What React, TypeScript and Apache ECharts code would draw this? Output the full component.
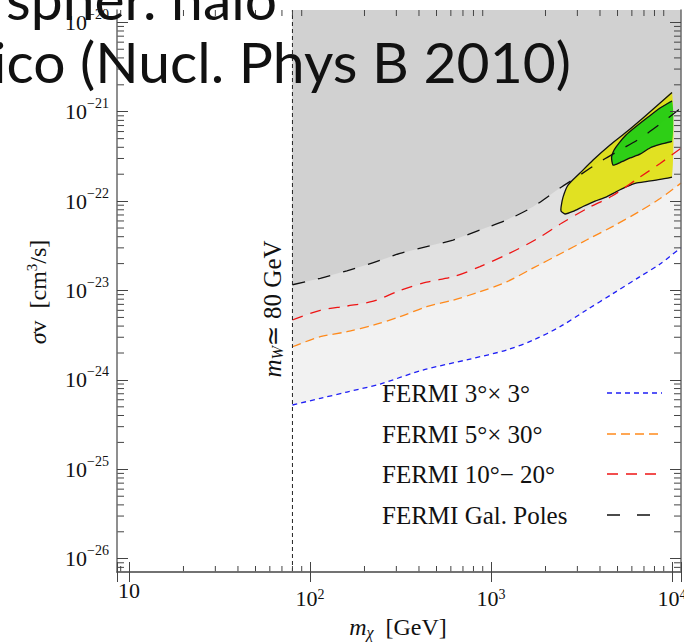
import React, { useEffect, useRef } from "react";
import * as echarts from "echarts";

// ---- axis ranges (log scales) ----
const X_MIN = 8.587;
const X_MAX = 11210;
const Y_MIN = 7.1e-27;
const Y_MAX = 1.374e-20;
const M_W = 80;

const xDecadeExponents = [1, 2, 3, 4];
const yDecadeExponents = [-26, -25, -24, -23, -22, -21, -20];

// ---- FERMI constraints (m_chi [GeV], sigma v [cm^3/s]) ----
const blueMass = [80, 114, 160, 244, 421, 766, 1221, 1713, 2404, 3370, 4740, 6654, 8590, 11210];
const blueSigma = [5.24e-25, 6.22e-25, 7.32e-25, 9.0e-25, 1.29e-24, 1.71e-24, 2.16e-24, 2.79e-24, 3.93e-24, 6.05e-24, 9.3e-24, 1.43e-23, 1.98e-23, 3.03e-23];

const orangeMass = [80, 114, 160, 224, 314, 441, 621, 869, 1221, 1713, 2404, 3370, 4740, 6654, 8590, 11210];
const orangeSigma = [2.35e-24, 3.04e-24, 3.46e-24, 4.11e-24, 5.09e-24, 6.59e-24, 7.83e-24, 9.7e-24, 1.25e-23, 1.79e-23, 2.56e-23, 3.67e-23, 5.26e-23, 7.74e-23, 1.07e-22, 1.59e-22];

const redMass = [80, 114, 160, 224, 314, 441, 621, 869, 1241, 1750, 2466, 3435, 4665, 6654, 8590, 11210];
const redSigma = [4.68e-24, 6.0e-24, 6.7e-24, 7.6e-24, 1.0e-23, 1.24e-23, 1.43e-23, 1.85e-23, 2.56e-23, 3.67e-23, 5.69e-23, 8.38e-23, 1.14e-22, 1.86e-22, 2.64e-22, 3.9e-22];

const blackMass = [80, 114, 160, 224, 314, 441, 617, 869, 1221, 1706, 2404, 3102, 4000, 5163, 6654, 8590, 11210];
const blackSigma = [1.16e-23, 1.37e-23, 1.66e-23, 2.05e-23, 2.6e-23, 3.1e-23, 3.67e-23, 4.75e-23, 6.15e-23, 8.65e-23, 1.4e-22, 1.96e-22, 2.76e-22, 3.73e-22, 5.03e-22, 7.28e-22, 1.1e-21];

// ---- fit regions (PAMELA / FERMI e+e- preferred) ----
const yellowMass = [10000, 8590, 6914, 5640, 4545, 3664, 3102, 2663, 2500, 2438, 2438, 2565, 2838, 3224, 3757, 4320, 4908, 5570, 6320, 7280, 8590, 10000];
const yellowSigma = [1.64e-21, 1.25e-21, 8.5e-22, 6.0e-22, 4.24e-22, 2.88e-22, 2.06e-22, 1.51e-22, 1.11e-22, 8.59e-23, 7.74e-23, 7.18e-23, 7.66e-23, 8.7e-23, 1.0e-22, 1.11e-22, 1.27e-22, 1.44e-22, 1.59e-22, 1.66e-22, 1.75e-22, 1.86e-22];

const greenMass = [10000, 8590, 7380, 6325, 5570, 5093, 4786, 4635, 4721, 5163, 5866, 6654, 7550, 8590, 10000];
const greenSigma = [1.32e-21, 1.1e-21, 8.72e-22, 6.82e-22, 5.48e-22, 4.46e-22, 3.73e-22, 3.11e-22, 2.53e-22, 2.7e-22, 3.04e-22, 3.36e-22, 3.93e-22, 4.3e-22, 4.65e-22];

const legendLabels = ["FERMI 3°× 3°", "FERMI 5°× 30°", "FERMI 10°− 20°", "FERMI Gal. Poles"];

const SERIF = "'Liberation Serif', 'DejaVu Serif', serif";
const SANS = "Lato, 'Open Sans', sans-serif";

const zip = (a: number[], b: number[]) => a.map((v, i) => [v, b[i]]);

// minor tick values (2..9 x 10^n) inside the ranges
const minorTicks = (lo: number, hi: number, nLo: number, nHi: number) => {
  const out: number[] = [];
  for (let n = nLo; n <= nHi; n++) {
    for (let k = 2; k <= 9; k++) {
      const v = k * Math.pow(10, n);
      if (v > lo && v < hi) out.push(v);
    }
  }
  return out;
};
const xMinor = minorTicks(X_MIN, X_MAX, 0, 4);
const yMinor = minorTicks(Y_MIN, Y_MAX, -27, -20);

const isDecade = (v: number) => Math.abs(Math.log10(v) - Math.round(Math.log10(v))) < 1e-6;

export default function App() {
  const ref = useRef<HTMLDivElement>(null);

  useEffect(() => {
    const chart = echarts.init(ref.current!, null, { renderer: "svg" });

    const frameLine = { show: true, lineStyle: { color: "#6a6a6a", width: 1.5 } };
    const majorTickX = { show: true, inside: true, length: 10, lineStyle: { color: "#444", width: 1 } };
    const majorTickY = { show: true, inside: true, length: 11, lineStyle: { color: "#444", width: 1 } };

    const xLabel = {
      show: true,
      margin: 7,
      formatter: (v: number) => {
        if (!isDecade(v)) return "";
        const e = Math.round(Math.log10(v));
        if (!xDecadeExponents.includes(e)) return "";
        if (e === 1) return "{p|10}";
        return "{b|10}{s|" + e + "}";
      },
      rich: {
        p: { fontFamily: SERIF, fontSize: 22, lineHeight: 22, color: "#111" },
        b: { fontFamily: SERIF, fontSize: 22, lineHeight: 38, color: "#111" },
        s: { fontFamily: SERIF, fontSize: 14, lineHeight: 14, padding: [0, 0, 7, 0], color: "#111" },
      },
    };
    const yLabel = {
      show: true,
      margin: 8,
      formatter: (v: number) => {
        if (!isDecade(v)) return "";
        const e = Math.round(Math.log10(v));
        if (!yDecadeExponents.includes(e)) return "";
        return "{b|10}{s|\u2212" + Math.abs(e) + "}";
      },
      rich: {
        b: { fontFamily: SERIF, fontSize: 22, lineHeight: 30, color: "#111" },
        s: { fontFamily: SERIF, fontSize: 14, lineHeight: 14, padding: [0, 0, 16, 0], color: "#111" },
      },
    };

    const curves = [
      { m: blueMass, s: blueSigma, color: "#1f1ff5", fill: "#f2f2f2", dash: [5, 4] },
      { m: orangeMass, s: orangeSigma, color: "#ff8a1c", fill: "#e7e7e7", dash: [9, 5] },
      { m: redMass, s: redSigma, color: "#ee1515", fill: "#e1e1e1", dash: [11, 8] },
      { m: blackMass, s: blackSigma, color: "#111111", fill: "#d1d1d1", dash: [13, 13] },
    ];

    const shadingItem = (params: any, api: any) => {
      const cs = params.coordSys;
      const children = curves.map((c) => {
        const pts = c.m.map((m, i) => api.coord([m, c.s[i]]));
        const first = pts[0];
        const last = pts[pts.length - 1];
        pts.push([last[0], cs.y]);
        pts.push([first[0], cs.y]);
        return { type: "polygon", shape: { points: pts }, style: { fill: c.fill } };
      });
      return { type: "group", children };
    };

    const contourItem = (params: any, api: any) => {
      const yPts = yellowMass.map((m, i) => api.coord([m, yellowSigma[i]]));
      const gPts = greenMass.map((m, i) => api.coord([m, greenSigma[i]]));
      return {
        type: "group",
        children: [
          { type: "polygon", shape: { points: yPts, smooth: 0.2 }, style: { fill: "rgba(224,224,0,0.85)" } },
          { type: "polyline", shape: { points: yPts, smooth: 0.2 }, style: { stroke: "#111", lineWidth: 1.3, fill: "none" } },
          { type: "polygon", shape: { points: gPts, smooth: 0.2 }, style: { fill: "rgba(20,204,20,0.88)" } },
          { type: "polyline", shape: { points: gPts, smooth: 0.2 }, style: { stroke: "#111", lineWidth: 1.3, fill: "none" } },
        ],
      };
    };

    const minorItem = (params: any, api: any) => {
      const cs = params.coordSys;
      const children: any[] = [];
      const st = { stroke: "#444", lineWidth: 1 };
      xMinor.forEach((v) => {
        const px = api.coord([v, Y_MIN])[0];
        children.push({ type: "line", shape: { x1: px, y1: cs.y + cs.height, x2: px, y2: cs.y + cs.height - 6 }, style: st });
        children.push({ type: "line", shape: { x1: px, y1: cs.y, x2: px, y2: cs.y + 6 }, style: st });
      });
      yMinor.forEach((v) => {
        const py = api.coord([X_MIN, v])[1];
        children.push({ type: "line", shape: { x1: cs.x, y1: py, x2: cs.x + 7, y2: py }, style: st });
        children.push({ type: "line", shape: { x1: cs.x + cs.width, y1: py, x2: cs.x + cs.width - 7, y2: py }, style: st });
      });
      return { type: "group", children };
    };

    const legendY = [393, 434, 474, 515];
    const legendGraphics: any[] = [];
    legendLabels.forEach((t, i) => {
      legendGraphics.push({
        type: "text",
        x: 382,
        y: legendY[i],
        z: 100,
        style: { text: t, fontFamily: SERIF, fontSize: 25, fill: "#111", align: "left", verticalAlign: "middle" },
      });
      legendGraphics.push({
        type: "line",
        z: 100,
        shape: { x1: 607, y1: legendY[i], x2: i === 3 ? 652 : 662, y2: legendY[i] },
        style: { stroke: curves[i].color, lineWidth: 1.3, lineDash: i === 3 ? [13, 17] : curves[i].dash },
      });
    });

    const option: any = {
      animation: false,
      backgroundColor: "#ffffff",
      textStyle: { fontFamily: SERIF },
      grid: { left: 117, right: 3, top: 10, bottom: 72, containLabel: false, outerBoundsMode: "none" },
      xAxis: [
        {
          type: "log", logBase: 10, min: X_MIN, max: X_MAX, position: "bottom", z: 10,
          axisLine: frameLine, axisTick: majorTickX, axisLabel: xLabel, splitLine: { show: false },
        },
        {
          type: "log", logBase: 10, min: X_MIN, max: X_MAX, position: "top", z: 10,
          axisLine: frameLine, axisTick: majorTickX, axisLabel: { show: false }, splitLine: { show: false },
        },
      ],
      yAxis: [
        {
          type: "log", logBase: 10, min: Y_MIN, max: Y_MAX, position: "left", z: 10,
          axisLine: frameLine, axisTick: majorTickY, axisLabel: yLabel, splitLine: { show: false },
        },
        {
          type: "log", logBase: 10, min: Y_MIN, max: Y_MAX, position: "right", z: 10,
          axisLine: frameLine, axisTick: majorTickY, axisLabel: { show: false }, splitLine: { show: false },
        },
      ],
      series: [
        { type: "custom", name: "shading", xAxisIndex: 0, yAxisIndex: 0, z: 1, silent: true, data: [[1000, 1e-23]], renderItem: shadingItem },
        { type: "custom", name: "fit", xAxisIndex: 0, yAxisIndex: 0, z: 2, silent: true, data: [[5000, 3e-22]], renderItem: contourItem },
        ...curves.map((c, i) => ({
          type: "line",
          name: legendLabels[i],
          xAxisIndex: 0,
          yAxisIndex: 0,
          z: 3,
          data: zip(c.m, c.s),
          showSymbol: false,
          symbol: "none",
          smooth: 0.3,
          silent: true,
          lineStyle: { color: c.color, width: 1.3, type: c.dash },
        })),
        {
          type: "line", name: "mW", xAxisIndex: 0, yAxisIndex: 0, z: 4, silent: true,
          data: [[M_W, Y_MIN], [M_W, Y_MAX]], showSymbol: false, symbol: "none",
          lineStyle: { color: "#222", width: 1, type: [4, 3] },
        },
        { type: "custom", name: "minor", xAxisIndex: 0, yAxisIndex: 0, z: 5, silent: true, data: [[1000, 1e-23]], renderItem: minorItem },
      ],
      graphic: [
        {
          type: "text", x: 272, y: 309, rotation: Math.PI / 2, z: 100,
          style: {
            text: "{i|m}{sub|W}{n|\u2243 80 GeV}",
            align: "center", verticalAlign: "middle", fill: "#111",
            rich: {
              i: { fontFamily: SERIF, fontSize: 25, fontStyle: "italic", fill: "#111" },
              sub: { fontFamily: SERIF, fontSize: 16, fontStyle: "italic", lineHeight: 16, padding: [10, 0, 0, 0], fill: "#111" },
              n: { fontFamily: SERIF, fontSize: 25, fill: "#111" },
            },
          },
        },
        {
          type: "text", x: 38, y: 292, rotation: Math.PI / 2, z: 100,
          style: {
            text: "{i|\u03c3}{n|v  [cm}{sup|3}{n|/s]}",
            align: "center", verticalAlign: "middle", fill: "#111",
            rich: {
              i: { fontFamily: SERIF, fontSize: 24, fontStyle: "italic", fill: "#111" },
              n: { fontFamily: SERIF, fontSize: 24, fill: "#111" },
              sup: { fontFamily: SERIF, fontSize: 15, lineHeight: 15, padding: [0, 0, 12, 0], fill: "#111" },
            },
          },
        },
        {
          type: "text", x: 398, y: 627, z: 100,
          style: {
            text: "{i|m}{sub|\u03c7}{n|  [GeV]}",
            align: "center", verticalAlign: "middle", fill: "#111",
            rich: {
              i: { fontFamily: SERIF, fontSize: 24, fontStyle: "italic", fill: "#111" },
              sub: { fontFamily: SERIF, fontSize: 16, fontStyle: "italic", lineHeight: 16, padding: [10, 0, 0, 0], fill: "#111" },
              n: { fontFamily: SERIF, fontSize: 24, fill: "#111" },
            },
          },
        },
        ...legendGraphics,
        {
          type: "text", x: 277, y: -31, z: 120,
          style: { text: "spher. halo", fontFamily: SANS, fontSize: 57, fill: "#111", align: "right", verticalAlign: "top" },
        },
        {
          type: "text", x: 571, y: 32, z: 120,
          style: { text: "Serpico (Nucl. Phys B 2010)", fontFamily: SANS, fontSize: 57, fill: "#111", align: "right", verticalAlign: "top" },
        },
      ],
    };

    chart.setOption(option);
    return () => chart.dispose();
  }, []);

  return (
    <div
      ref={ref}
      style={{ position: "fixed", left: 0, top: 0, width: 684, height: 644, background: "#fff" }}
    />
  );
}
